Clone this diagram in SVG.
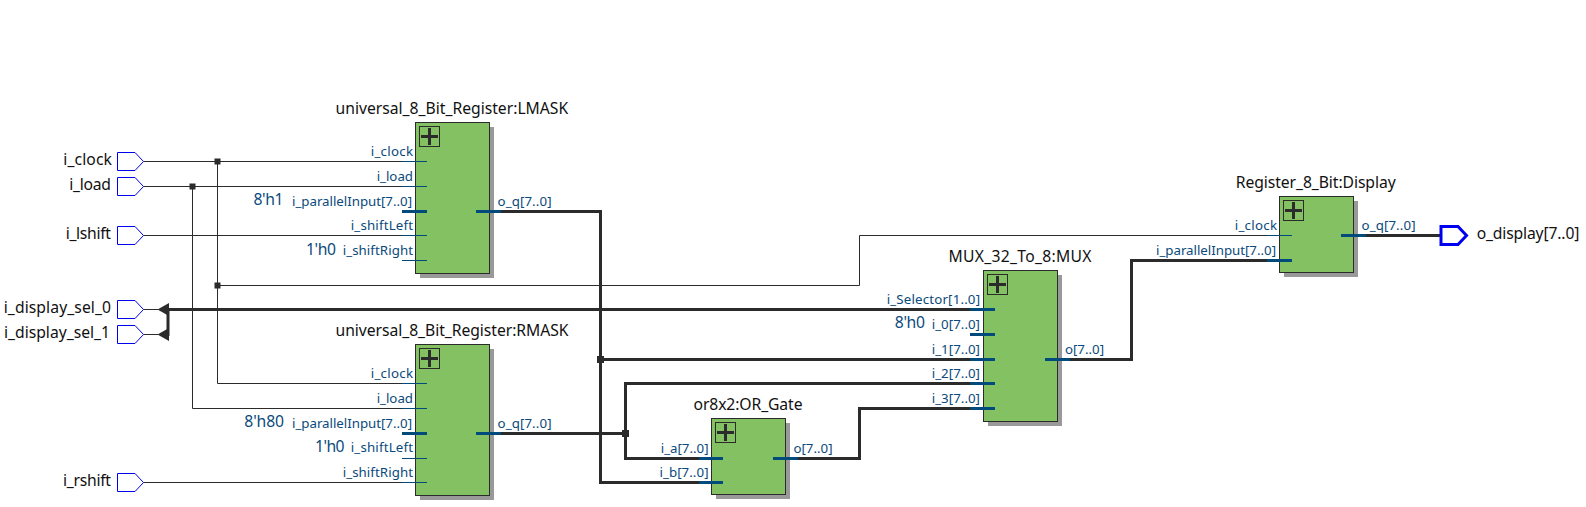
<svg xmlns="http://www.w3.org/2000/svg" width="1586" height="507" viewBox="0 0 1586 507">
<style>
text{font-family:"Noto Sans","Open Sans",sans-serif}
.t{font-size:15.7px;fill:#111}
.p{font-size:13.3px;fill:#0a4a7c}
.c{font-size:15.7px;fill:#0a4a7c}
.e{text-anchor:end}
.box{fill:#84c162;stroke:#2b2b2b;stroke-width:1}
.sh{fill:#999}
.pb{fill:#84c162;stroke:#2b2b2b;stroke-width:1}
.pl{stroke:#2b2b2b;stroke-width:3;fill:none}
.w{stroke:#2b2b2b;stroke-width:1;fill:none}
.b{stroke:#2b2b2b;stroke-width:3;fill:none}
.s{stroke:#004a7c;stroke-width:1;fill:none}
.sb{stroke:#004a7c;stroke-width:3;fill:none}
.pin{fill:#fff;stroke:#0000f0;stroke-width:1}
.pino{fill:#fff;stroke:#0000f0;stroke-width:3}
.j{fill:#2b2b2b}
</style>
<defs>
<g id="plus"><rect class="pb" x="0" y="0" width="20" height="20"/><path class="pl" d="M1.5 10H18.5M10 1.5V18.5"/></g>
<path id="pinshape" class="pin" d="M0 -9H17.5L26 0L17.5 9H0Z"/>
</defs>
<g id="connectors">
<path class="w" d="M143.5 161.5H402M143.5 186.5H402M143.5 235.5H402"/>
<path class="w" d="M217.5 161.5V383.5H402M192.5 186.5V408.5H402M143.5 482.5H402"/>
<path class="w" d="M217.5 285.5H859.5V235.5H1267"/>
<path class="w" d="M143.5 309.5H158M143.5 334.5H158"/>
<path class="b" d="M168 309.5H970M168 308V336"/>
<path class="j" d="M157.500 309.500L169 303V316ZM157.500 334.500L169 328V341Z"/>
<path class="b" d="M501 211.500H600.500V482.500H699M501 433.500H625.500M600.500 359.500H970M699 458.500H625.500V383.500H970M797 458.500H859.500V408.500H970M1069 359.500H1131.500V260.500H1267M1366 235.500H1441"/>
<rect class="j" x="214.500" y="158.500" width="6" height="6"/>
<rect class="j" x="189.500" y="183.500" width="6" height="6"/>
<rect class="j" x="214.500" y="282.500" width="6" height="6"/>
<rect class="j" x="597" y="356" width="7" height="7"/>
<rect class="j" x="622" y="430" width="7" height="7"/>
</g>
<g id="i_clock"><use href="#pinshape" x="117.500" y="161.500"/><text class="t e" x="112" y="165" textLength="48.700">i_clock</text></g>
<g id="i_load"><use href="#pinshape" x="117.500" y="186.500"/><text class="t e" x="111" y="190" textLength="41.700">i_load</text></g>
<g id="i_lshift"><use href="#pinshape" x="117.500" y="235.500"/><text class="t e" x="111" y="239" textLength="45.300">i_lshift</text></g>
<g id="i_display_sel_0"><use href="#pinshape" x="117.500" y="309.500"/><text class="t e" x="111" y="313" textLength="107.300">i_display_sel_0</text></g>
<g id="i_display_sel_1"><use href="#pinshape" x="117.500" y="334.500"/><text class="t e" x="110" y="338" textLength="106">i_display_sel_1</text></g>
<g id="i_rshift"><use href="#pinshape" x="117.500" y="482.500"/><text class="t e" x="111" y="486" textLength="48">i_rshift</text></g>
<g id="LMASK">
<rect class="sh" x="420" y="127" width="74" height="151"/>
<rect class="box" x="415.500" y="122.500" width="74" height="151"/>
<use href="#plus" x="419.500" y="126.500"/>
<path class="s" d="M402 161.500H427M402 186.500H427M402 235.500H427M402 260.500H427"/>
<path class="sb" d="M402 211.500H427M476 211.500H501"/>
<text class="t" x="335.500" y="114" textLength="232.700">universal_8_Bit_Register:LMASK</text>
<text class="p e" x="413" y="156" textLength="42.300">i_clock</text>
<text class="p e" x="413" y="181" textLength="36.300">i_load</text>
<text class="p e" x="412" y="206" textLength="120">i_parallelInput[7..0]</text>
<text class="p e" x="413" y="230" textLength="62.300">i_shiftLeft</text>
<text class="p e" x="413" y="255" textLength="70.300">i_shiftRight</text>
<text class="p" x="497.500" y="206" textLength="54">o_q[7..0]</text>
<text class="c e" x="283.500" y="205" textLength="30">8'h1</text>
<text class="c e" x="336" y="255" textLength="30">1'h0</text>
</g>
<g id="RMASK">
<rect class="sh" x="420" y="349" width="74" height="151"/>
<rect class="box" x="415.500" y="344.500" width="74" height="151"/>
<use href="#plus" x="419.500" y="348.500"/>
<path class="s" d="M402 383.500H427M402 408.500H427M402 458.500H427M402 482.500H427"/>
<path class="sb" d="M402 433.500H427M476 433.500H501"/>
<text class="t" x="335.500" y="336" textLength="233">universal_8_Bit_Register:RMASK</text>
<text class="p e" x="413" y="378" textLength="42.300">i_clock</text>
<text class="p e" x="413" y="403" textLength="36.300">i_load</text>
<text class="p e" x="412" y="428" textLength="120">i_parallelInput[7..0]</text>
<text class="p e" x="413" y="452" textLength="62.300">i_shiftLeft</text>
<text class="p e" x="413" y="477" textLength="70.300">i_shiftRight</text>
<text class="p" x="497.500" y="428" textLength="54">o_q[7..0]</text>
<text class="c e" x="284" y="427" textLength="39.700">8'h80</text>
<text class="c e" x="344.500" y="452" textLength="29.500">1'h0</text>
</g>
<g id="OR_Gate">
<rect class="sh" x="716" y="423" width="74" height="76"/>
<rect class="box" x="711.500" y="418.500" width="74" height="76"/>
<use href="#plus" x="715.500" y="422.500"/>
<path class="sb" d="M699 458.500H723M699 482.500H723M773 458.500H798"/>
<text class="t" x="693.500" y="410" textLength="109">or8x2:OR_Gate</text>
<text class="p e" x="708.500" y="453" textLength="47.700">i_a[7..0]</text>
<text class="p e" x="708.500" y="477" textLength="49">i_b[7..0]</text>
<text class="p" x="793.500" y="453" textLength="39">o[7..0]</text>
</g>
<g id="MUX">
<rect class="sh" x="988" y="275" width="74" height="151"/>
<rect class="box" x="983.500" y="270.500" width="74" height="151"/>
<use href="#plus" x="987.500" y="274.500"/>
<path class="sb" d="M970 309.500H995M970 334.500H995M970 359.500H995M970 383.500H995M970 408.500H995M1045 359.500H1070"/>
<text class="t" x="948.500" y="262" textLength="143">MUX_32_To_8:MUX</text>
<text class="p e" x="980" y="304" textLength="93.300">i_Selector[1..0]</text>
<text class="p e" x="980" y="329" textLength="48.300">i_0[7..0]</text>
<text class="p e" x="980" y="354" textLength="48.300">i_1[7..0]</text>
<text class="p e" x="980" y="378" textLength="48.300">i_2[7..0]</text>
<text class="p e" x="980" y="403" textLength="48.300">i_3[7..0]</text>
<text class="p" x="1065" y="354" textLength="39">o[7..0]</text>
<text class="c e" x="925" y="328" textLength="30.300">8'h0</text>
</g>
<g id="Display">
<rect class="sh" x="1284" y="201" width="74" height="76"/>
<rect class="box" x="1279.500" y="196.500" width="74" height="76"/>
<use href="#plus" x="1283.500" y="200.500"/>
<path class="s" d="M1267 235.500H1292"/>
<path class="sb" d="M1267 260.500H1292M1341 235.500H1366"/>
<text class="t" x="1235.700" y="188" textLength="160">Register_8_Bit:Display</text>
<text class="p e" x="1277" y="230" textLength="42.300">i_clock</text>
<text class="p e" x="1276" y="255" textLength="120">i_parallelInput[7..0]</text>
<text class="p" x="1361.500" y="230" textLength="54">o_q[7..0]</text>
</g>
<g id="o_display">
<path class="pino" d="M1441 226.500H1458L1466.500 235.500L1458 244.500H1441Z"/>
<text class="t" x="1476.700" y="239" textLength="102.700">o_display[7..0]</text>
</g>
</svg>
